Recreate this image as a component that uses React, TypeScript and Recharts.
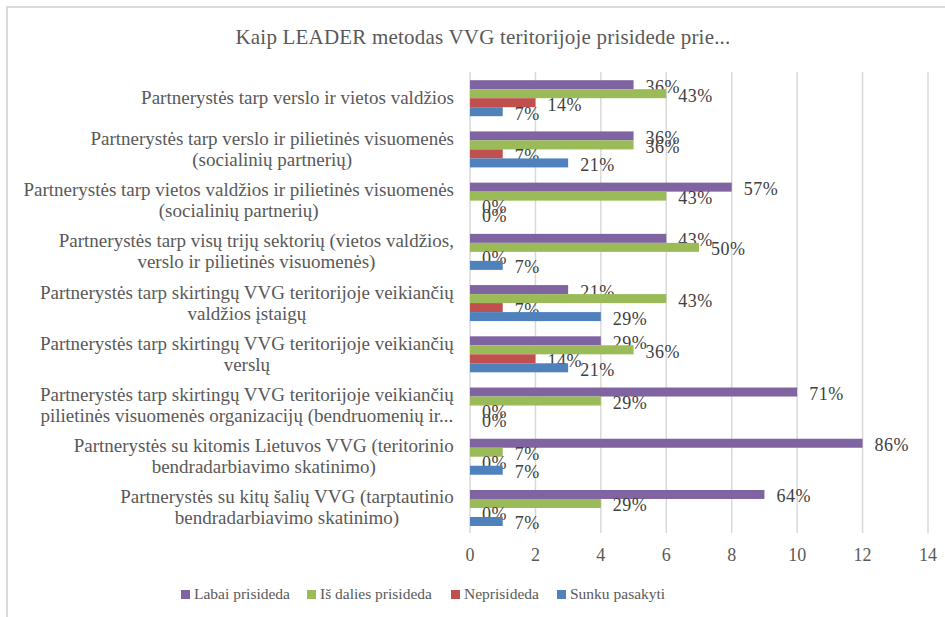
import { BarChart, Bar, XAxis, YAxis, CartesianGrid } from "recharts";

const TOTAL = 14;

// category labels, already split into the lines Excel wrapped them to
const categories: string[][] = [
  ["Partnerystės tarp verslo ir vietos valdžios"],
  ["Partnerystės tarp verslo ir pilietinės visuomenės", "(socialinių partnerių)"],
  ["Partnerystės tarp vietos valdžios ir pilietinės visuomenės", "(socialinių partnerių)"],
  ["Partnerystės tarp visų trijų sektorių (vietos valdžios,", "verslo ir pilietinės visuomenės)"],
  ["Partnerystės tarp skirtingų VVG teritorijoje veikiančių", "valdžios įstaigų"],
  ["Partnerystės tarp skirtingų VVG teritorijoje veikiančių", "verslų"],
  ["Partnerystės tarp skirtingų VVG teritorijoje veikiančių", "pilietinės visuomenės organizacijų (bendruomenių ir..."],
  ["Partnerystės su kitomis Lietuvos VVG (teritorinio", "bendradarbiavimo skatinimo)"],
  ["Partnerystės su kitų šalių VVG (tarptautinio", "bendradarbiavimo skatinimo)"],
];

const labai = [5, 5, 8, 6, 3, 4, 10, 12, 9];
const isDalies = [6, 5, 6, 7, 6, 5, 4, 1, 4];
const neprisideda = [2, 1, 0, 0, 1, 2, 0, 0, 0];
const sunku = [1, 3, 0, 1, 4, 3, 0, 1, 1];

const xTicks = [0, 2, 4, 6, 8, 10, 12, 14];

const series = [
  { key: "labai", name: "Labai prisideda", color: "#8064A2" },
  { key: "dalies", name: "Iš dalies prisideda", color: "#9BBB59" },
  { key: "ne", name: "Neprisideda", color: "#C0504D" },
  { key: "sunku", name: "Sunku pasakyti", color: "#4F81BD" },
];

const data = categories.map((lines, i) => ({
  name: lines.join("\n"),
  labai: labai[i],
  dalies: isDalies[i],
  ne: neprisideda[i],
  sunku: sunku[i],
}));

const FONT = "'Liberation Serif', serif";
const TICK_SIZE = 19;

let ctx: CanvasRenderingContext2D | null = null;
function textWidth(s: string, size: number) {
  if (!ctx) ctx = document.createElement("canvas").getContext("2d");
  if (!ctx) return s.length * size * 0.45;
  ctx.font = `${size}px 'Liberation Serif'`;
  return ctx.measureText(s).width;
}

function CategoryTick(props: any) {
  const { y, payload } = props;
  const lines: string[] = String(payload.value).split("\n");
  const maxW = Math.max(...lines.map((l) => textWidth(l, TICK_SIZE)));
  const cx = 454 - maxW / 2;
  const lh = 21;
  const start = y - ((lines.length - 1) * lh) / 2;
  return (
    <g>
      {lines.map((l, i) => (
        <text
          key={i}
          x={cx}
          y={start + i * lh}
          textAnchor="middle"
          dominantBaseline="central"
          fill="#595959"
          fontSize={TICK_SIZE}
          fontFamily={FONT}
        >
          {l}
        </text>
      ))}
    </g>
  );
}

// bar + its percentage label; drawn through shape so zero bars still get "0%"
function makeShape(key: string) {
  return (props: any) => {
    const { x, y, width, height, fill, payload } = props;
    const v = payload ? payload[key] : 0;
    const w = Math.max(0, width || 0);
    return (
      <g>
        {w > 0 && <rect x={x} y={y} width={w} height={height} fill={fill} />}
        <text
          x={x + w + 12}
          y={y + height / 2 + 2}
          dominantBaseline="central"
          fill="#404040"
          fontSize={18}
          letterSpacing={0.5}
          fontFamily={FONT}
        >
          {Math.round((v / TOTAL) * 100)}%
        </text>
      </g>
    );
  };
}

function LegendRow() {
  const pos = [181, 307, 451, 557];
  return (
    <div style={{ position: "absolute", left: 0, top: 585, width: 945, height: 20 }}>
      {series.map((s, i) => (
        <div
          key={s.key}
          style={{
            position: "absolute",
            left: pos[i],
            top: 0,
            display: "flex",
            alignItems: "center",
            fontFamily: FONT,
            fontSize: 15.5,
            color: "#595959",
            whiteSpace: "nowrap",
          }}
        >
          <span style={{ width: 9, height: 9, background: s.color, marginRight: 4, display: "inline-block" }} />
          {s.name}
        </div>
      ))}
    </div>
  );
}

export default function App() {
  return (
    <div style={{ position: "absolute", left: 0, top: 0, width: 945, height: 617, overflow: "hidden", background: "#fff" }}>
      <div
        style={{
          position: "absolute",
          left: 6,
          top: 6,
          width: 1000,
          height: 700,
          borderLeft: "2px solid #d9d9d9",
          borderTop: "2px solid #d9d9d9",
        }}
      />
      <div
        style={{
          position: "absolute",
          left: 0,
          top: 25,
          width: 966,
          textAlign: "center",
          fontFamily: FONT,
          fontSize: 21,
          letterSpacing: 0.2,
          color: "#595959",
        }}
      >
        Kaip LEADER metodas VVG teritorijoje prisidede prie...
      </div>
      <div style={{ position: "absolute", left: 0, top: 0 }}>
        <BarChart
          width={945}
          height={617}
          data={data}
          layout="vertical"
          margin={{ top: 72, right: 17, bottom: 54, left: 0 }}
          barCategoryGap="16%"
          barGap={0}
        >
          <CartesianGrid horizontal={false} stroke="#d9d9d9" strokeWidth={1.5} />
          <XAxis
            type="number"
            domain={[0, 14]}
            ticks={xTicks}
            axisLine={false}
            tickLine={false}
            height={30}
            tick={{ fill: "#595959", fontSize: 18, fontFamily: FONT }}
            tickMargin={9}
            interval={0}
          />
          <YAxis
            type="category"
            dataKey="name"
            width={470}
            axisLine={false}
            tickLine={false}
            tick={<CategoryTick />}
            interval={0}
          />
          {series.map((s) => (
            <Bar
              key={s.key}
              dataKey={s.key}
              name={s.name}
              fill={s.color}
              isAnimationActive={false}
              shape={makeShape(s.key)}
            />
          ))}
        </BarChart>
      </div>
      <LegendRow />
    </div>
  );
}
